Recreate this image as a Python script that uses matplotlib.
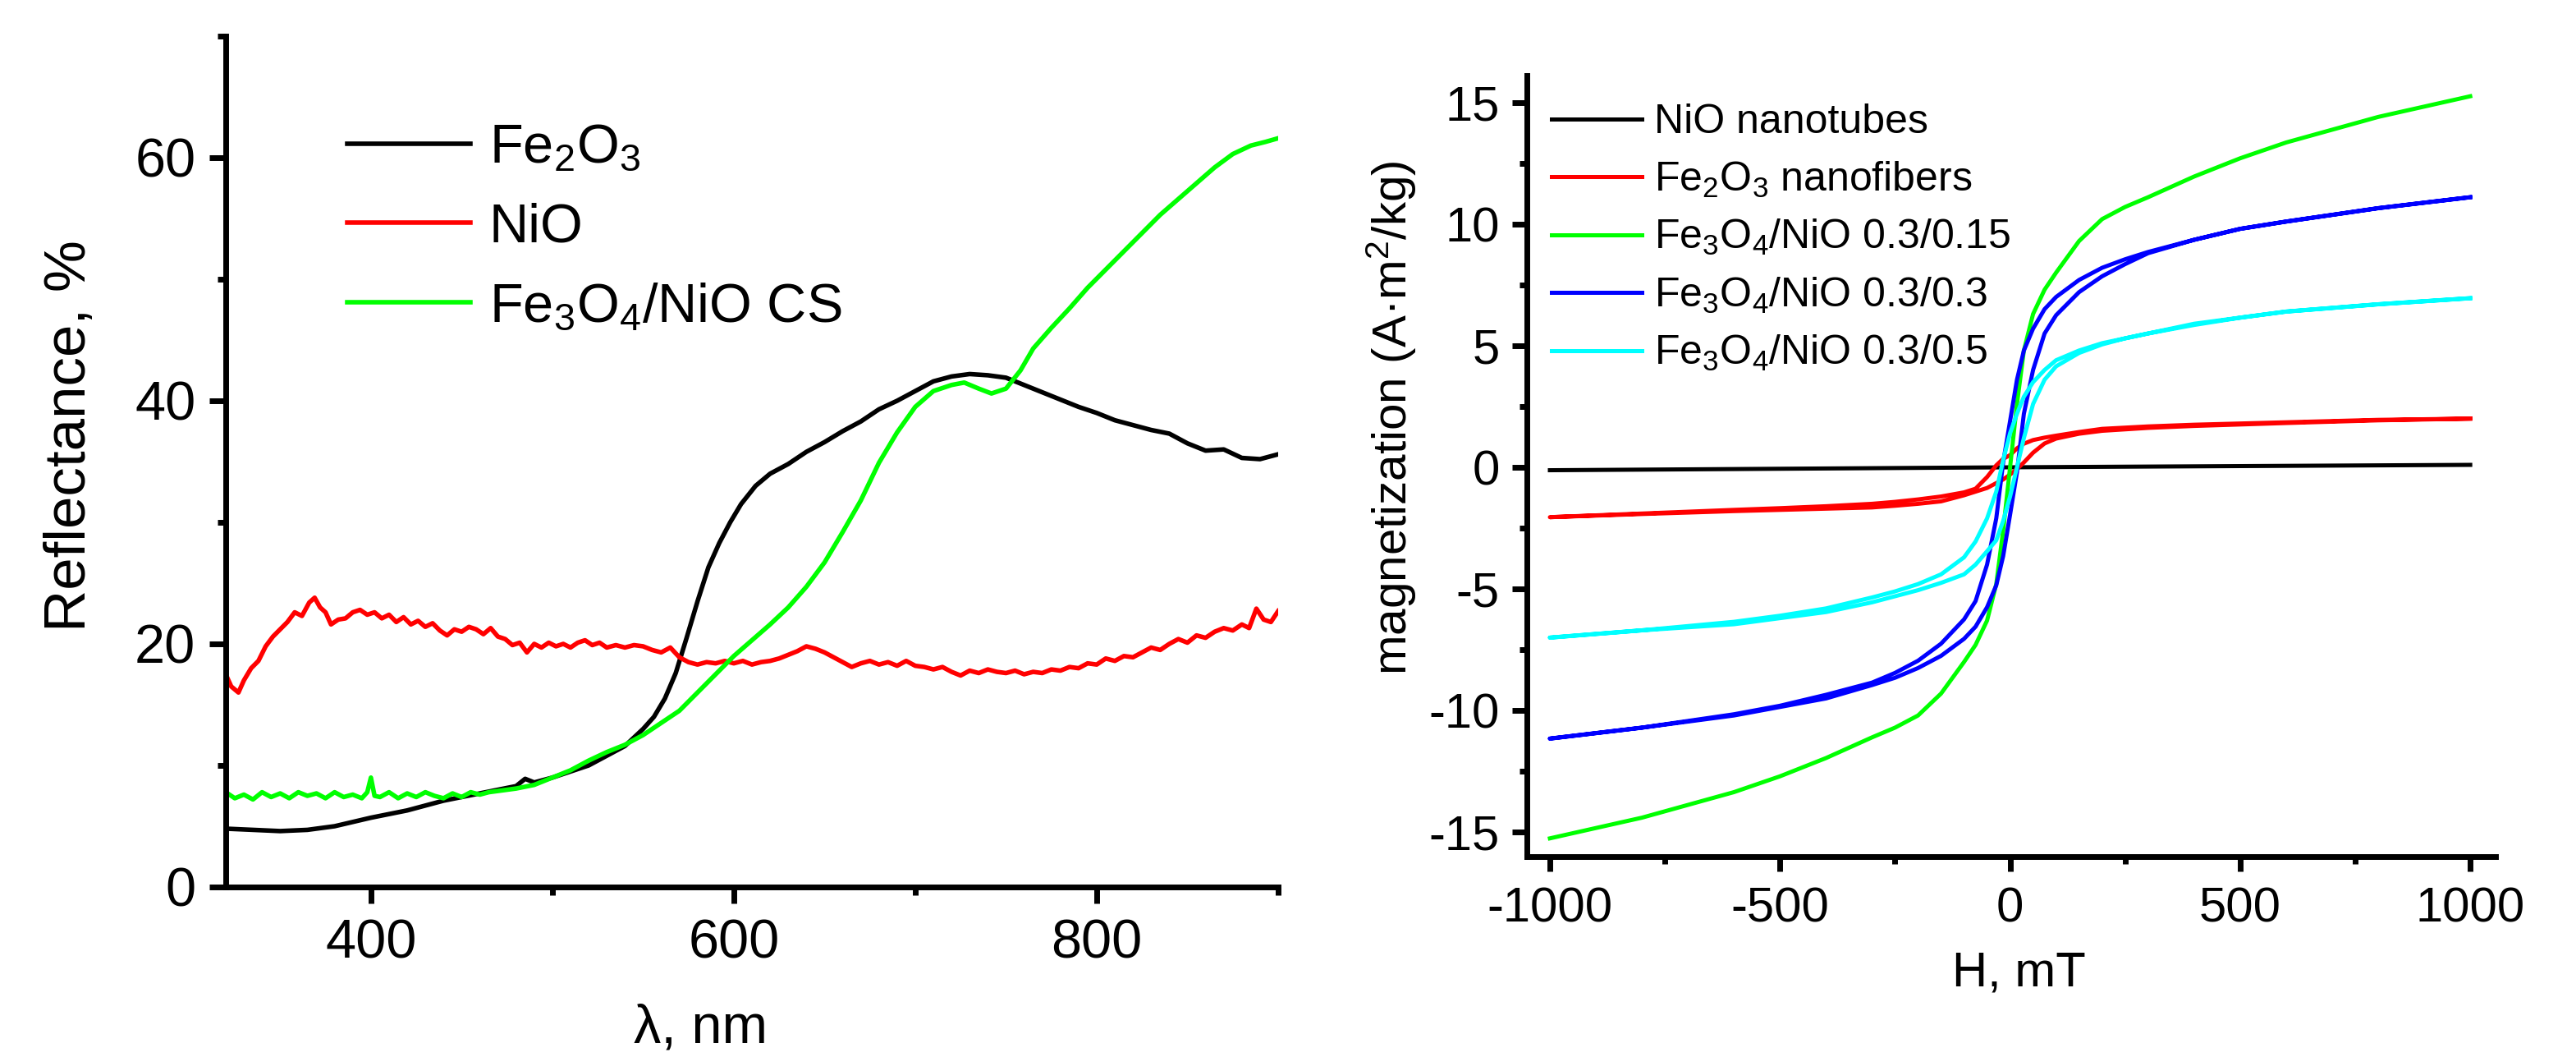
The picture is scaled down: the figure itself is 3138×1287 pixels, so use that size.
import matplotlib
matplotlib.use('Agg')
import matplotlib.pyplot as plt
from matplotlib.ticker import MultipleLocator

plt.rcParams['font.family'] = ['Liberation Sans', 'DejaVu Sans']
plt.rcParams['mathtext.fontset'] = 'custom'
plt.rcParams['mathtext.rm'] = 'Liberation Sans'
plt.rcParams['mathtext.it'] = 'Liberation Sans:italic'
plt.rcParams['mathtext.bf'] = 'Liberation Sans:bold'
plt.rcParams['mathtext.default'] = 'regular'
plt.rcParams['axes.unicode_minus'] = False

# ---------------- Left panel data: reflectance ----------------
lam_fe2o3 = [320, 335, 350, 365, 380, 400, 420, 440, 460, 480, 485, 490, 500, 510, 520, 530,
             540, 550, 556, 562, 568, 574, 580, 586, 592, 598, 604, 612, 620, 630, 640, 650,
             660, 670, 680, 690, 700, 710, 720, 730, 740, 750, 760, 770, 780, 790, 800, 810,
             820, 830, 840, 850, 860, 870, 880, 890, 900]
R_fe2o3 = [4.8, 4.7, 4.6, 4.7, 5.0, 5.7, 6.3, 7.1, 7.7, 8.3, 8.9, 8.6, 9.0, 9.5, 10.0, 10.8,
           11.6, 13.0, 14.0, 15.5, 17.6, 20.5, 23.5, 26.3, 28.3, 30.0, 31.5, 33.0, 34.0, 34.8, 35.8, 36.6,
           37.5, 38.3, 39.3, 40.0, 40.8, 41.6, 42.0, 42.2, 42.1, 41.9, 41.3, 40.7, 40.1, 39.5, 39.0, 38.4,
           38.0, 37.6, 37.3, 36.5, 35.9, 36.0, 35.3, 35.2, 35.6]

lam_nio = [320, 323, 327, 330, 334, 338, 342, 346, 350, 354, 358, 362, 366, 369, 372, 375, 378, 382,
           386, 390, 394, 398, 402, 406, 410, 414, 418, 422, 426, 430, 434, 438, 442, 446, 450, 454,
           458, 462, 466, 470, 474, 478, 482, 486, 490, 494, 498, 502, 506, 510, 514, 518, 522, 526,
           530, 535, 540, 545, 550, 555, 560, 565, 570, 575, 580, 585, 590, 595, 600, 605, 610, 615,
           620, 625, 630, 635, 640, 645, 650, 655, 660, 665, 670, 675, 680, 685, 690, 695, 700, 705,
           710, 715, 720, 725, 730, 735, 740, 745, 750, 755, 760, 765, 770, 775, 780, 785, 790, 795,
           800, 805, 810, 815, 820, 825, 830, 835, 840, 845, 850, 855, 860, 865, 870, 875, 880, 884,
           888, 892, 896, 900]
R_nio = [17.5, 16.5, 16.0, 17.0, 18.0, 18.6, 19.8, 20.6, 21.2, 21.8, 22.6, 22.3, 23.4, 23.8, 23.0, 22.6, 21.6, 22.0,
         22.1, 22.6, 22.8, 22.4, 22.6, 22.1, 22.4, 21.8, 22.2, 21.6, 21.9, 21.4, 21.7, 21.1, 20.7, 21.2, 21.0, 21.4,
         21.2, 20.8, 21.3, 20.6, 20.4, 19.9, 20.1, 19.3, 20.0, 19.7, 20.1, 19.8, 20.0, 19.7, 20.1, 20.3, 19.9, 20.1,
         19.7, 19.9, 19.7, 19.9, 19.8, 19.5, 19.3, 19.7, 18.9, 18.5, 18.3, 18.5, 18.4, 18.6, 18.4, 18.6, 18.3, 18.5,
         18.6, 18.8, 19.1, 19.4, 19.8, 19.6, 19.3, 18.9, 18.5, 18.1, 18.4, 18.6, 18.3, 18.5, 18.2, 18.6, 18.2, 18.1,
         17.9, 18.1, 17.7, 17.4, 17.8, 17.6, 17.9, 17.7, 17.6, 17.8, 17.5, 17.7, 17.6, 17.9, 17.8, 18.1, 18.0, 18.4,
         18.3, 18.8, 18.6, 19.0, 18.9, 19.3, 19.7, 19.5, 20.0, 20.4, 20.1, 20.7, 20.5, 21.0, 21.3, 21.1, 21.6, 21.3,
         22.9, 22.0, 21.8, 22.7]

lam_cs = [320, 325, 330, 335, 340, 345, 350, 355, 360, 365, 370, 375, 380, 385, 390, 395, 398, 400,
          402, 405, 410, 415, 420, 425, 430, 435, 440, 445, 450, 455, 460, 465, 470, 480, 490, 500,
          510, 520, 530, 540, 550, 560, 570, 580, 590, 600, 610, 620, 630, 640, 650, 660, 670, 680,
          690, 700, 710, 720, 727, 735, 742, 750, 758, 765, 775, 785, 795, 805, 815, 825, 835, 845,
          855, 865, 875, 885, 893, 900]
R_cs = [7.8, 7.3, 7.6, 7.2, 7.8, 7.4, 7.7, 7.3, 7.8, 7.5, 7.7, 7.3, 7.8, 7.4, 7.6, 7.3, 7.8, 9.0,
        7.5, 7.4, 7.8, 7.3, 7.7, 7.4, 7.8, 7.5, 7.3, 7.7, 7.4, 7.8, 7.6, 7.8, 7.9, 8.1, 8.4, 9.0,
        9.6, 10.4, 11.1, 11.7, 12.5, 13.5, 14.5, 16.0, 17.5, 19.0, 20.3, 21.6, 23.0, 24.7, 26.7, 29.2, 31.8, 34.9,
        37.4, 39.5, 40.8, 41.3, 41.5, 41.0, 40.6, 41.0, 42.5, 44.3, 46.0, 47.6, 49.3, 50.8, 52.3, 53.8, 55.3, 56.6,
        57.9, 59.2, 60.3, 61.0, 61.3, 61.6]

# ---------------- Right panel data: magnetization loops ----------------
H_grid = [-1000, -800, -600, -500, -400, -300, -250, -200, -150, -100, -75, -50, -30, -15, 0,
          15, 30, 50, 75, 100, 150, 200, 250, 300, 400, 500, 600, 800, 1000]

H_nio = [-1000, -500, 0, 500, 1000]
M_nio = [-0.12, -0.06, 0.0, 0.05, 0.1]

M_fe2o3_down = [-2.05, -1.9, -1.75, -1.68, -1.6, -1.5, -1.42, -1.32, -1.2, -1.03, -0.88, -0.4, 0.08, 0.35, 0.5,
                0.78, 0.97, 1.12, 1.22, 1.3, 1.45, 1.58, 1.63, 1.68, 1.75, 1.8, 1.85, 1.95, 2.0]
M_fe2o3_up = [-2.05, -1.92, -1.8, -1.75, -1.7, -1.65, -1.58, -1.5, -1.4, -1.15, -1.0, -0.85, -0.65, -0.5, -0.3,
              -0.07, 0.2, 0.6, 0.98, 1.18, 1.38, 1.5, 1.56, 1.62, 1.7, 1.76, 1.82, 1.93, 2.0]

M_015 = [-15.25, -14.4, -13.35, -12.7, -11.95, -11.1, -10.7, -10.2, -9.3, -8.0, -7.3, -6.3, -4.8, -2.6, 0.0,
         2.6, 4.8, 6.3, 7.3, 8.0, 9.3, 10.2, 10.7, 11.1, 11.95, 12.7, 13.35, 14.4, 15.25]

M_03_down = [-11.15, -10.7, -10.15, -9.8, -9.35, -8.85, -8.45, -7.95, -7.25, -6.25, -5.5, -4.0, -2.1, 0.2, 1.9,
             3.6, 4.8, 5.7, 6.5, 7.0, 7.7, 8.2, 8.55, 8.85, 9.35, 9.8, 10.1, 10.65, 11.1]
M_03_up = [-11.15, -10.7, -10.2, -9.85, -9.5, -8.95, -8.65, -8.25, -7.75, -7.05, -6.55, -5.75, -4.85, -3.65, -1.95,
           -0.2, 2.2, 4.0, 5.5, 6.25, 7.2, 7.85, 8.35, 8.8, 9.35, 9.8, 10.1, 10.65, 11.1]

M_05_down = [-7.0, -6.7, -6.35, -6.1, -5.8, -5.35, -5.1, -4.8, -4.4, -3.7, -3.05, -2.1, -1.0, 0.3, 1.4,
             2.2, 2.9, 3.5, 4.0, 4.4, 4.8, 5.1, 5.3, 5.5, 5.9, 6.15, 6.4, 6.7, 6.95]
M_05_up = [-7.0, -6.7, -6.45, -6.2, -5.95, -5.55, -5.3, -5.05, -4.75, -4.4, -4.0, -3.45, -3.0, -2.2, -1.2,
           0.0, 1.2, 2.6, 3.6, 4.15, 4.7, 5.05, 5.3, 5.5, 5.85, 6.15, 6.4, 6.7, 6.95]

W, Hpx = 3138, 1287
fig = plt.figure(figsize=(W / 100, Hpx / 100), dpi=100)
ax1 = fig.add_axes([275 / W, 1 - 1080 / Hpx, (1557 - 275) / W, (1080 - 44) / Hpx])
ax2 = fig.add_axes([1860 / W, 1 - 1043 / Hpx, (3040 - 1860) / W, (1043 - 92) / Hpx])


def style(ax, fs, major_len, minor_len, xpad, ypad):
    for s in ['top', 'right']:
        ax.spines[s].set_visible(False)
    for s in ['left', 'bottom']:
        ax.spines[s].set_linewidth(5)
    ax.tick_params(which='major', direction='out', length=major_len, width=5, labelsize=fs)
    ax.tick_params(which='minor', direction='out', length=minor_len, width=5)
    ax.tick_params(axis='x', which='major', pad=xpad)
    ax.tick_params(axis='y', which='major', pad=ypad)


# Left panel
lw1 = 4.0
l1, = ax1.plot(lam_fe2o3, R_fe2o3, color='#000000', lw=lw1, label='Fe$_2$O$_3$')
l2, = ax1.plot(lam_nio, R_nio, color='#ff0000', lw=lw1, label='NiO')
l3, = ax1.plot(lam_cs, R_cs, color='#00ff00', lw=lw1, label='Fe$_3$O$_4$/NiO CS')
ax1.set_xlim(320, 900)
ax1.set_ylim(0, 70)
ax1.xaxis.set_major_locator(MultipleLocator(200))
ax1.xaxis.set_minor_locator(MultipleLocator(100))
ax1.yaxis.set_major_locator(MultipleLocator(20))
ax1.yaxis.set_minor_locator(MultipleLocator(10))
style(ax1, 48, 14.4, 7.2, 13, 12)
ax1.set_ylabel('Reflectance, %', fontsize=51)
ax1.yaxis.set_label_coords(-0.122, 0.53)
ax1.set_xlabel('λ, nm', fontsize=48)
ax1.xaxis.set_label_coords(0.451, -0.137)
ax1.legend(handles=[l1, l2, l3], loc='upper left', bbox_to_anchor=(423 / W, 1 - 150 / Hpx),
           bbox_transform=fig.transFigure, frameon=False, fontsize=48, handlelength=2.25,
           handletextpad=0.34, labelspacing=0.52, borderpad=0, borderaxespad=0)

# Right panel
lw2 = 3.6
m1, = ax2.plot(H_nio, M_nio, color='#000000', lw=lw2, label='NiO nanotubes')
m2, = ax2.plot(H_grid[::-1] + H_grid, M_fe2o3_down[::-1] + M_fe2o3_up, color='#ff0000', lw=lw2,
               label='Fe$_2$O$_3$ nanofibers')
m3, = ax2.plot(H_grid, M_015, color='#00ff00', lw=lw2, label='Fe$_3$O$_4$/NiO 0.3/0.15')
m4, = ax2.plot(H_grid[::-1] + H_grid, M_03_down[::-1] + M_03_up, color='#0000ff', lw=lw2,
               label='Fe$_3$O$_4$/NiO 0.3/0.3')
m5, = ax2.plot(H_grid[::-1] + H_grid, M_05_down[::-1] + M_05_up, color='#00ffff', lw=lw2,
               label='Fe$_3$O$_4$/NiO 0.3/0.5')
ax2.set_xlim(-1050, 1055)
ax2.set_ylim(-16, 16.1)
ax2.xaxis.set_major_locator(MultipleLocator(500))
ax2.xaxis.set_minor_locator(MultipleLocator(250))
ax2.yaxis.set_major_locator(MultipleLocator(5))
ax2.yaxis.set_minor_locator(MultipleLocator(2.5))
style(ax2, 43, 13, 6.5, 13, 11)
ax2.set_ylabel('magnetization (A·m$^2$/kg)', fontsize=42)
ax2.yaxis.set_label_coords(-0.112, 0.5615)
ax2.set_xlabel('H, mT', fontsize=43)
ax2.xaxis.set_label_coords(0.508, -0.12)
ax2.legend(handles=[m1, m2, m3, m4, m5], loc='upper left', bbox_to_anchor=(1890 / W, 1 - 126 / Hpx),
           bbox_transform=fig.transFigure, frameon=False, fontsize=36, handlelength=2.2,
           handletextpad=0.3, labelspacing=0.45, borderpad=0, borderaxespad=0)

fig.savefig('out.png', dpi=100)
